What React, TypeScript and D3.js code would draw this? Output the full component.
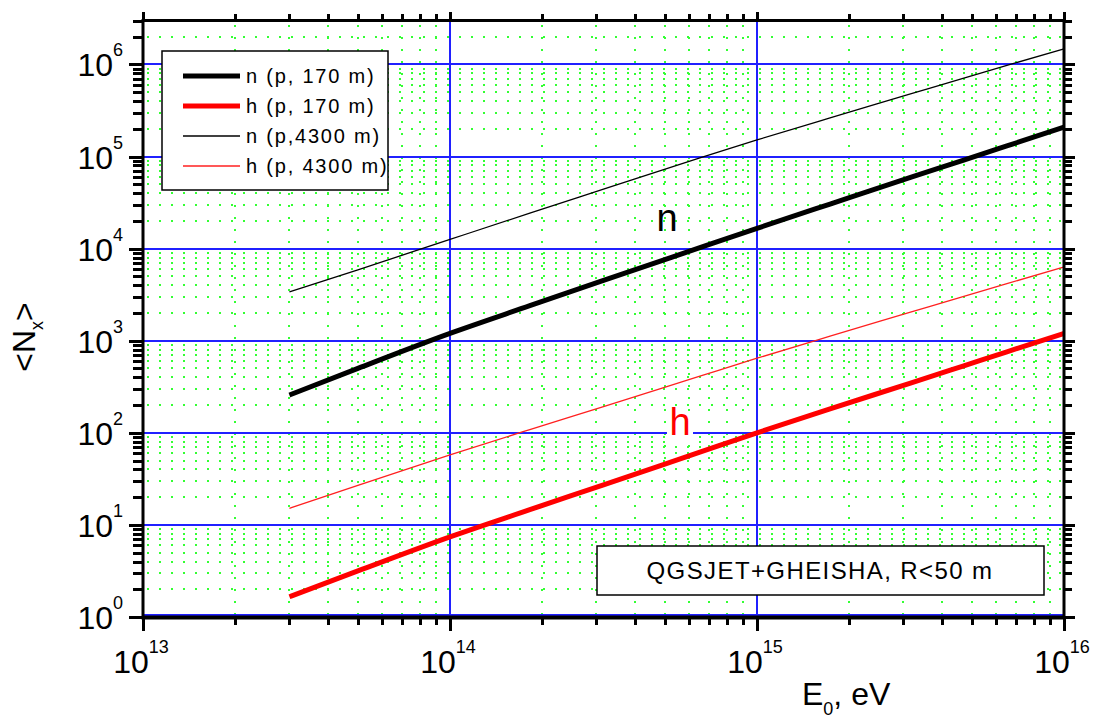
import React from "react";
import * as d3 from "d3";

// Primary energy E0 (eV) sampled along each curve, as log10 values
const logE = [13.477, 13.7, 14.0, 14.26, 14.5, 14.814, 15.0, 15.238, 15.5, 15.671, 15.814, 16.0];

// Mean particle numbers <Nx>, as log10 values, one per energy above
const nP170 = [2.41, 2.70, 3.08, 3.38, 3.655, 4.01, 4.22, 4.484, 4.773, 4.958, 5.115, 5.32];
const hP170 = [0.22, 0.50, 0.87, 1.165, 1.435, 1.79, 2.0, 2.26, 2.54, 2.725, 2.88, 3.08];
const nP4300 = [3.53, 3.77, 4.10, 4.385, 4.645, 4.985, 5.18, 5.42, 5.68, 5.85, 5.99, 6.17];
const hP4300 = [1.18, 1.43, 1.76, 2.035, 2.285, 2.615, 2.81, 3.05, 3.31, 3.48, 3.62, 3.80];

const legendLabels = ["n (p, 170 m)", "h (p, 170 m)", "n (p,4300 m)", "h (p, 4300 m)"];
const xTickExp = [13, 14, 15, 16];
const yTickExp = [0, 1, 2, 3, 4, 5, 6];

const W = 1102;
const H = 718;
const L = 143;
const R = 1064;
const T = 20.5;
const B = 617;
const FONT = "'Liberation Sans', Arial, sans-serif";

export default function App() {
  const x = d3.scaleLog().domain([1e13, 1e16]).range([L, R]);
  const y = d3.scaleLog().domain([1, 3e6]).range([B, T]);

  const series = [
    { vals: nP170, color: "#000000", width: 5 },
    { vals: hP170, color: "#ff0000", width: 5 },
    { vals: nP4300, color: "#000000", width: 1.3 },
    { vals: hP4300, color: "#ff2020", width: 1.3 },
  ];

  const line = d3
    .line<[number, number]>()
    .x((d) => x(Math.pow(10, d[0])))
    .y((d) => y(Math.pow(10, d[1])))
    .curve(d3.curveMonotoneX);

  // minor values for both axes
  const xMinor: number[] = [];
  for (let e = 13; e < 16; e++) for (let m = 2; m <= 9; m++) xMinor.push(m * Math.pow(10, e));
  const yMinor: number[] = [];
  for (let e = 0; e <= 6; e++)
    for (let m = 2; m <= 9; m++) {
      const v = m * Math.pow(10, e);
      if (v <= 3e6) yMinor.push(v);
    }

  const r = (v: number) => Math.round(v) + 0.5;

  return (
    <svg
      width={W}
      height={H}
      style={{ position: "absolute", left: 0, top: 0, background: "#fff" }}
      fontFamily={FONT}
    >
      <rect x={0} y={0} width={W} height={H} fill="#fff" />

      {/* minor dotted grid */}
      <g stroke="#33ff33" strokeWidth={2} strokeDasharray="2 10" shapeRendering="crispEdges">
        {xMinor.map((v, i) => (
          <line key={"gx" + i} x1={Math.round(x(v))} x2={Math.round(x(v))} y1={T + 4} y2={B} />
        ))}
        {yMinor.map((v, i) => (
          <line key={"gy" + i} x1={L + 4} x2={R} y1={Math.round(y(v))} y2={Math.round(y(v))} />
        ))}
      </g>

      {/* major grid */}
      <g stroke="#2020ff" strokeWidth={2} shapeRendering="crispEdges">
        {xTickExp.slice(1, -1).map((e) => (
          <line key={"Mx" + e} x1={Math.round(x(Math.pow(10, e)))} x2={Math.round(x(Math.pow(10, e)))} y1={T} y2={B} />
        ))}
        {yTickExp.map((e) => (
          <line key={"My" + e} x1={L} x2={R} y1={Math.round(y(Math.pow(10, e))) - (e === 0 ? 2 : 0)} y2={Math.round(y(Math.pow(10, e))) - (e === 0 ? 2 : 0)} />
        ))}
      </g>

      {/* label h sits on a white patch over the grid */}
      <rect x={667} y={418} width={26} height={26} fill="#fff" />

      {/* curves */}
      {series.map((s, i) => (
        <path
          key={"s" + i}
          d={line(logE.map((e, j) => [e, s.vals[j]] as [number, number])) || ""}
          fill="none"
          stroke={s.color}
          strokeWidth={s.width}
          strokeLinejoin="round"
        />
      ))}

      {/* frame */}
      <rect x={L} y={T} width={R - L} height={B - T} fill="none" stroke="#000" strokeWidth={3} />
      <line x1={L - 1.5} x2={R + 1.5} y1={B + 1} y2={B + 1} stroke="#000" strokeWidth={3} />

      {/* ticks */}
      <g stroke="#000" strokeWidth={2.5} shapeRendering="crispEdges">
        {xTickExp.map((e) => {
          const px = r(x(Math.pow(10, e)));
          return (
            <g key={"tx" + e}>
              <line x1={px} x2={px} y1={B} y2={B + 14} />
              <line x1={px} x2={px} y1={T} y2={T - 9} />
            </g>
          );
        })}
        {xMinor.map((v, i) => {
          const px = r(x(v));
          return (
            <g key={"tmx" + i}>
              <line x1={px} x2={px} y1={B} y2={B + 8} />
              <line x1={px} x2={px} y1={T} y2={T - 7} />
            </g>
          );
        })}
        {yTickExp.map((e) => {
          const py = r(y(Math.pow(10, e)));
          return (
            <g key={"ty" + e}>
              <line x1={L} x2={L - 14} y1={py} y2={py} />
              <line x1={R} x2={R + 11} y1={py} y2={py} />
            </g>
          );
        })}
        {yMinor.map((v, i) => {
          const py = r(y(v));
          return (
            <g key={"tmy" + i}>
              <line x1={L} x2={L - 10} y1={py} y2={py} />
              <line x1={R} x2={R + 8} y1={py} y2={py} />
            </g>
          );
        })}
      </g>

      {/* x tick labels */}
      {xTickExp.map((e) => (
        <text key={"lx" + e} x={x(Math.pow(10, e)) - 2} y={673} textAnchor="middle" fill="#000">
          <tspan fontSize={32}>10</tspan>
          <tspan fontSize={18} dy={-20}>{e}</tspan>
        </text>
      ))}

      {/* y tick labels */}
      {yTickExp.map((e) => (
        <text key={"ly" + e} x={123} y={y(Math.pow(10, e)) + 12} textAnchor="end" fill="#000">
          <tspan fontSize={32}>10</tspan>
          <tspan fontSize={18} dy={-20}>{e}</tspan>
        </text>
      ))}

      {/* axis titles */}
      <text x={802} y={705} fontSize={32} fill="#000">
        E<tspan fontSize={18} dy={10}>0</tspan>
        <tspan dy={-10}>, eV</tspan>
      </text>
      <text transform="translate(35,337) rotate(-90)" textAnchor="middle" fontSize={32} fill="#000">
        {"<N"}
        <tspan fontSize={18} dy={8}>x</tspan>
        <tspan dy={-8}>{">"}</tspan>
      </text>

      {/* curve labels */}
      <text x={667} y={231} fontSize={38} textAnchor="middle" fill="#000">n</text>
      <text x={680} y={435} fontSize={38} textAnchor="middle" fill="#ff0000">h</text>

      {/* legend */}
      <rect x={162} y={51} width={226} height={139} fill="#fff" stroke="#000" strokeWidth={1.5} />
      {series.map((s, i) => {
        const ly = 76 + i * 30;
        return (
          <g key={"lg" + i}>
            <line x1={183} x2={240} y1={ly} y2={ly} stroke={s.color} strokeWidth={s.width} />
            <text x={246} y={ly + 7} fontSize={20} letterSpacing={1.8} fill="#000">
              {legendLabels[i]}
            </text>
          </g>
        );
      })}

      {/* model annotation */}
      <rect x={597} y={546} width={447} height={49} fill="#fff" stroke="#000" strokeWidth={1.5} />
      <text x={820} y={579} fontSize={24} letterSpacing={1.4} textAnchor="middle" fill="#000">
        QGSJET+GHEISHA, R&lt;50 m
      </text>
    </svg>
  );
}
